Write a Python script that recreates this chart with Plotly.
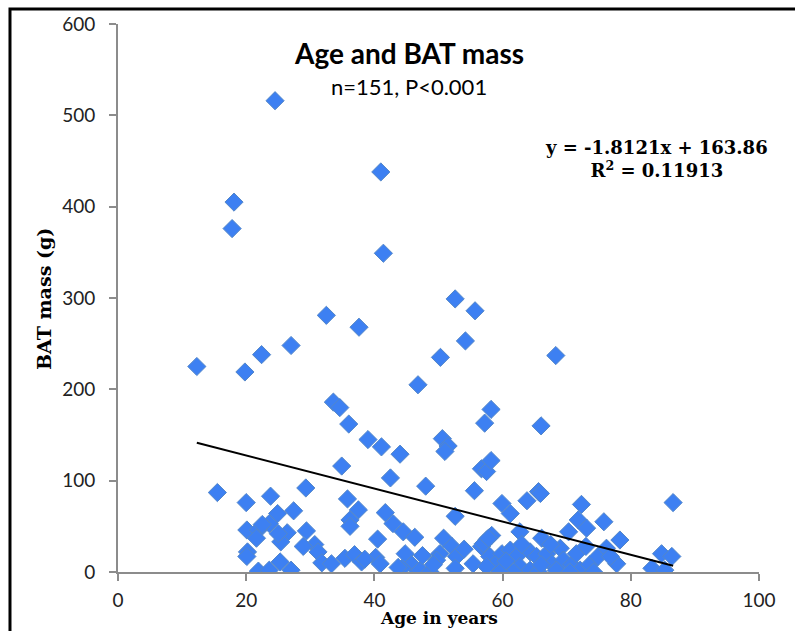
import plotly.graph_objects as go

# ---- data ----
age = [
    12.3, 17.8, 18.1, 19.8, 22.4, 24.5, 27.0, 32.5, 33.6, 34.6, 34.9, 36.0,
    37.6, 39.0, 41.0, 41.1, 41.4, 42.5, 44.0, 46.8, 50.3, 50.6, 51.5, 51.0,
    52.6, 54.2, 55.7, 57.2, 58.2, 56.7, 57.5, 58.2, 66.0, 68.3,
    15.5, 20.0, 23.8, 29.3, 24.9, 27.4, 35.8, 37.5, 36.2, 41.7, 42.9, 48.0,
    52.6, 55.6, 59.9, 61.2, 63.8, 65.6, 65.9, 72.3, 71.8, 75.8, 86.6, 23.6,
    20.1, 21.9, 21.6, 26.4, 25.4, 29.4, 30.7, 28.9, 31.2, 31.8, 20.2, 20.1,
    21.9, 23.6, 25.3, 27.0, 36.2, 40.5, 35.4, 36.9, 38.0, 40.2, 40.9, 44.5,
    46.3, 44.8, 45.8, 44.3, 47.1, 48.7, 50.8, 52.1, 50.2, 49.7, 49.2, 52.8,
    52.6, 55.4, 56.7, 57.5, 58.3, 62.7, 66.1, 69.0, 70.3, 73.1, 78.3, 77.8,
    57.0, 58.0, 59.9, 61.2, 62.2, 64.3, 65.3, 66.9, 67.7, 69.5, 70.8, 58.8,
    60.6, 62.7, 64.3, 65.6, 68.4, 72.1, 73.6, 74.9, 76.2, 76.8, 61.7, 59.6,
    57.5, 70.5, 74.2, 84.8, 86.4, 83.3, 85.3,
    63.0, 67.5, 60.5, 66.0, 71.5, 73.0, 54.0, 47.5, 38.5, 43.7, 33.3, 25.0,
    22.5, 57.8,
]
bat_mass = [
    225, 376, 405, 219, 238, 516, 248, 281, 186, 180, 116, 162,
    268, 145, 438, 137, 349, 103, 129, 205, 235, 146, 138, 132,
    299, 253, 286, 163, 178, 113, 110, 122, 160, 237,
    87, 76, 83, 92, 64, 67, 80, 68, 57, 65, 53, 94,
    61, 89, 75, 64, 78, 88, 86, 74, 57, 55, 76, 53,
    46, 46, 37, 43, 33, 45, 30, 28, 22, 10, 22, 17,
    1, 2, 11, 2, 50, 36, 15, 19, 11, 16, 9, 44,
    38, 20, 8, 4, 2, 0, 37, 28, 20, 13, 8, 17,
    4, 9, 28, 35, 40, 44, 37, 26, 44, 48, 35, 9,
    31, 17, 20, 24, 17, 22, 17, 20, 9, 13, 8, 8,
    4, 6, 2, 0, 2, 2, 8, 17, 26, 17, 0, 0,
    6, 0, 0, 20, 17, 4, 2,
    30, 30, 12, 8, 20, 28, 25, 18, 14, 5, 9, 42,
    52, 37,
]

slope = -1.8121
intercept = 163.86
r_squared = 0.11913

x_ticks = [0, 20, 40, 60, 80, 100]
y_ticks = [0, 100, 200, 300, 400, 500, 600]

title_text = "Age and BAT mass"
subtitle_text = "n=151, P<0.001"
x_title = "Age in years"
y_title = "BAT mass (g)"

# ---- figure ----
fig = go.Figure()

fig.add_trace(go.Scatter(
    x=age, y=bat_mass, mode="markers",
    marker=dict(symbol="diamond", size=14, color="#3D80F2",
                line=dict(color="#5487C8", width=1)),
    showlegend=False, hoverinfo="x+y",
))

x_min, x_max = min(age), max(age)
fig.add_trace(go.Scatter(
    x=[x_min, x_max],
    y=[slope * x_min + intercept, slope * x_max + intercept],
    mode="lines", line=dict(color="black", width=2),
    showlegend=False, hoverinfo="skip",
))

axis_common = dict(
    showline=True, linecolor="#8C8C8C", linewidth=2,
    ticks="outside", tickcolor="#8C8C8C", ticklen=7, tickwidth=2,
    showgrid=False, zeroline=False,
    tickfont=dict(family="Lato", size=19, color="#222222"),
)

fig.update_layout(
    width=795, height=631,
    margin=dict(l=118, r=36, t=24, b=59),
    paper_bgcolor="white", plot_bgcolor="white",
    xaxis=dict(range=[0, 100], tickvals=x_ticks, ticklabelstandoff=3,
               **axis_common),
    yaxis=dict(range=[0, 600], tickvals=y_ticks, ticklabelstandoff=10,
               **axis_common),
    shapes=[dict(type="rect", xref="paper", yref="paper",
                 x0=-0.1685, y0=-0.3, x1=1.2, y1=1.0275,
                 line=dict(color="black", width=3), layer="above")],
)

W = 641.0
H = 548.0


def px_x(p):
    return (p - 118) / W


def px_y(p):
    return (572 - p) / H


def label(text, cx, cy, font, angle=0):
    fig.add_annotation(text=text, xref="paper", yref="paper",
                       x=px_x(cx), y=px_y(cy), xanchor="center",
                       yanchor="middle", showarrow=False, align="center",
                       textangle=angle, font=font)


label("<b>" + title_text + "</b>", 409, 53,
      dict(family="Lato", size=28, color="black"))
label(subtitle_text, 409, 86, dict(family="Lato", size=22, color="black"))
label("<b>y = %.4fx + %.2f<br>R<sup>2</sup> = %.5f</b>" % (slope, intercept, r_squared),
      656, 159, dict(family="DejaVu Serif", size=18, color="black"))
label("<b>" + x_title + "</b>", 439, 618,
      dict(family="DejaVu Serif", size=17, color="black"))
label("<b>" + y_title + "</b>", 44, 299,
      dict(family="DejaVu Serif", size=19, color="black"), angle=-90)

fig.write_html("out.html")
